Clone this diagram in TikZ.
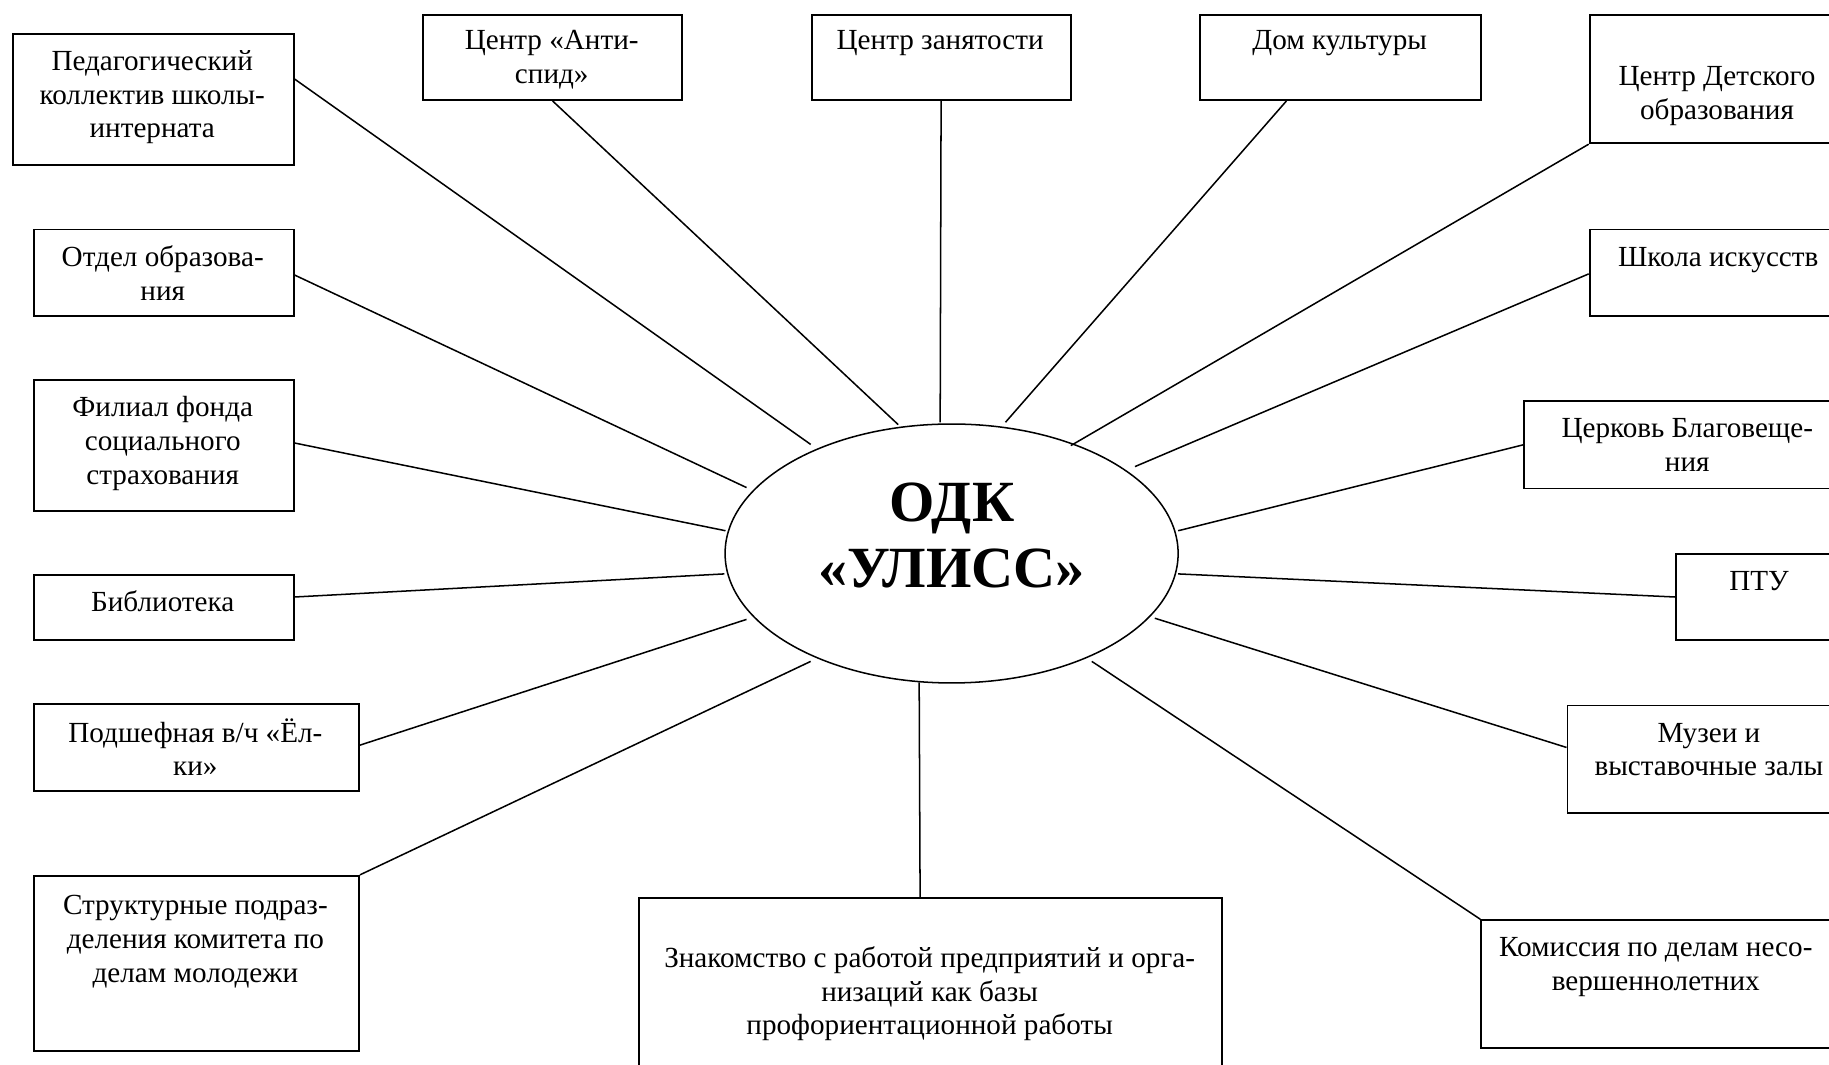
\documentclass[tikz,border=0pt]{standalone}
\usepackage{fontspec}
\setmainfont{Liberation Serif}
\usetikzlibrary{shapes.geometric}
\begin{document}
\begin{tikzpicture}[x=1pt,y=1pt,
  box/.style={draw,line width=1.6pt,rectangle,inner sep=0pt,anchor=north west},
  txt/.style={inner sep=0pt,align=center,font=\fontsize{25}{29}\selectfont,anchor=north},
  link/.style={line width=1.3pt}]
\useasboundingbox (0,0) rectangle (1568,-913);
\clip (0,0) rectangle (1568,-913);

% central ellipse
\node[draw,ellipse,line width=1.3pt,minimum width=388.4,minimum height=222,inner sep=0pt] (odk) at (815.8,-474.5) {};
\node[inner sep=0pt,align=center,anchor=north,font=\fontsize{50}{56}\selectfont\bfseries] (odkt) at (816,-408) {\strut ОДК\\«УЛИСС»};

% boxes
\node[box,minimum width=241,minimum height=113] (ped) at (10,-28) {};
\node[box,minimum width=222,minimum height=73] (anti) at (362,-12) {};
\node[box,minimum width=222,minimum height=73] (zan) at (695,-12) {};
\node[box,minimum width=241,minimum height=73] (dom) at (1028,-12) {};
\node[box,minimum width=222,minimum height=110] (cdo) at (1362,-12) {};
\node[box,minimum width=223,minimum height=74] (otd) at (28,-196) {};
\node[box,minimum width=223,minimum height=112] (fil) at (28,-325) {};
\node[box,minimum width=223,minimum height=56] (bib) at (28,-492) {};
\node[box,minimum width=279,minimum height=74] (pod) at (28,-603) {};
\node[box,minimum width=279,minimum height=150] (str) at (28,-750) {};
\node[box,minimum width=500,minimum height=170] (zna) at (547,-769) {};
\node[box,minimum width=222,minimum height=74] (shk) at (1362,-196) {};
\node[box,minimum width=281,minimum height=75] (cer) at (1306,-343) {};
\node[box,minimum width=144,minimum height=74] (ptu) at (1436,-474) {};
\node[box,minimum width=244,minimum height=92] (muz) at (1343,-604) {};
\node[box,minimum width=301,minimum height=110] (kom) at (1269,-788) {};

% texts
\node[txt] (tped) at (130.5,-39.7) {\strut Педагогический\\коллектив школы-\\интерната};
\node[txt] (tanti) at (473,-21.7) {\strut Центр «Анти-\\спид»};
\node[txt] (tzan) at (806,-21.7) {\strut Центр занятости};
\node[txt] (tdom) at (1148.5,-21.7) {\strut Дом культуры};
\node[txt] (tcdo) at (1472,-52.7) {\strut Центр Детского\\образования};
\node[txt] (totd) at (139.5,-207.7) {\strut Отдел образова-\\ния};
\node[txt] (tfil) at (139.5,-336.7) {\strut Филиал фонда\\социального\\страхования};
\node[txt] (tbib) at (139.5,-503.7) {\strut Библиотека};
\node[txt] (tpod) at (167.5,-615.7) {\strut Подшефная в/ч «Ёл-\\ки»};
\node[txt] (tstr) at (167.5,-763.7) {\strut Структурные подраз-\\деления комитета по\\делам молодежи};
\node[txt] (tzna) at (797,-808.7) {\strut Знакомство с работой предприятий и орга-\\низаций как базы\\профориентационной работы};
\node[txt] (tshk) at (1473,-207.7) {\strut Школа искусств};
\node[txt] (tcer) at (1446.5,-354.7) {\strut Церковь Благовеще-\\ния};
\node[txt] (tptu) at (1508,-485.7) {\strut ПТУ};
\node[txt] (tmuz) at (1465,-615.7) {\strut Музеи и\\выставочные залы};
\node[txt] (tkom) at (1419.5,-799.7) {\strut Комиссия по делам несо-\\вершеннолетних};

% connector ends near the ellipse
\coordinate (e-ped) at (695,-381);
\coordinate (e-anti) at (770,-364);
\coordinate (e-zan) at (806,-362);
\coordinate (e-dom) at (862,-362);
\coordinate (e-cdo) at (918,-382);
\coordinate (e-otd) at (640,-418);
\coordinate (e-fil) at (622,-455);
\coordinate (e-bib) at (621,-492);
\coordinate (e-pod) at (640,-531);
\coordinate (e-str) at (695,-567);
\coordinate (e-zna) at (788,-585);
\coordinate (e-shk) at (973,-400);
\coordinate (e-cer) at (1010,-455);
\coordinate (e-ptu) at (1010,-492);
\coordinate (e-muz) at (990,-530);
\coordinate (e-kom) at (936,-567);

% connectors
\draw[link] ([yshift=17.5]ped.east) -- (e-ped);
\draw[link] (anti.south) -- (e-anti);
\draw[link] (zan.south) -- (e-zan);
\draw[link] ([xshift=-46.5]dom.south) -- (e-dom);
\draw[link] (cdo.south west) -- (e-cdo);
\draw[link] ([yshift=-2]otd.east) -- (e-otd);
\draw[link] ([yshift=2]fil.east) -- (e-fil);
\draw[link] ([yshift=9]bib.east) -- (e-bib);
\draw[link] ([yshift=2]pod.east) -- (e-pod);
\draw[link] (str.north east) -- (e-str);
\draw[link] ([xshift=-9]zna.north) -- (e-zna);
\draw[link] ([yshift=-1]shk.west) -- (e-shk);
\draw[link] (cer.west) -- (e-cer);
\draw[link] (ptu.west) -- (e-ptu);
\draw[link] ([yshift=10]muz.west) -- (e-muz);
\draw[link] (kom.north west) -- (e-kom);
\end{tikzpicture}
\end{document}
